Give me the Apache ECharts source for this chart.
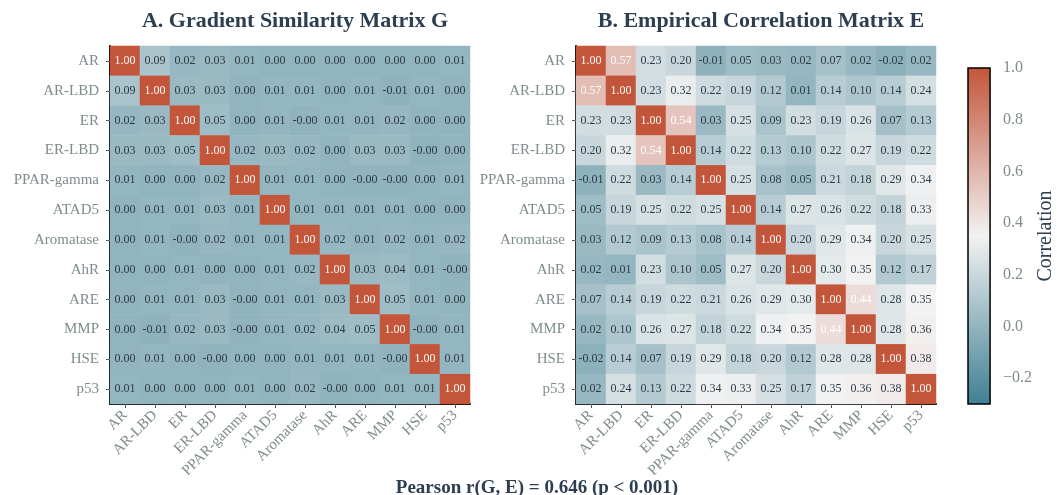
<!DOCTYPE html>
<html>
<head>
<meta charset="utf-8">
<script src="https://cdn.jsdelivr.net/npm/echarts@6/dist/echarts.min.js"></script>
<style>html,body{margin:0;padding:0;background:#fff;}#c{width:1057px;height:495px;}</style>
</head>
<body>
<div id="c"></div>
<script>
const categories = ['AR','AR-LBD','ER','ER-LBD','PPAR-gamma','ATAD5','Aromatase','AhR','ARE','MMP','HSE','p53'];

const gradientG = [
  [1.00, 0.09, 0.02, 0.03, 0.01, 0.00, 0.00, 0.00, 0.00, 0.00, 0.00, 0.01],
  [0.09, 1.00, 0.03, 0.03, 0.00, 0.01, 0.01, 0.00, 0.01, -0.01, 0.01, 0.00],
  [0.02, 0.03, 1.00, 0.05, 0.00, 0.01, -0.004, 0.01, 0.01, 0.02, 0.00, 0.00],
  [0.03, 0.03, 0.05, 1.00, 0.02, 0.03, 0.02, 0.00, 0.03, 0.03, -0.004, 0.00],
  [0.01, 0.00, 0.00, 0.02, 1.00, 0.01, 0.01, 0.00, -0.004, -0.004, 0.00, 0.01],
  [0.00, 0.01, 0.01, 0.03, 0.01, 1.00, 0.01, 0.01, 0.01, 0.01, 0.00, 0.00],
  [0.00, 0.01, -0.004, 0.02, 0.01, 0.01, 1.00, 0.02, 0.01, 0.02, 0.01, 0.02],
  [0.00, 0.00, 0.01, 0.00, 0.00, 0.01, 0.02, 1.00, 0.03, 0.04, 0.01, -0.004],
  [0.00, 0.01, 0.01, 0.03, -0.004, 0.01, 0.01, 0.03, 1.00, 0.05, 0.01, 0.00],
  [0.00, -0.01, 0.02, 0.03, -0.004, 0.01, 0.02, 0.04, 0.05, 1.00, -0.004, 0.01],
  [0.00, 0.01, 0.00, -0.004, 0.00, 0.00, 0.01, 0.01, 0.01, -0.004, 1.00, 0.01],
  [0.01, 0.00, 0.00, 0.00, 0.01, 0.00, 0.02, -0.004, 0.00, 0.01, 0.01, 1.00]
];

const empiricalE = [
  [1.00, 0.57, 0.23, 0.20, -0.01, 0.05, 0.03, 0.02, 0.07, 0.02, -0.02, 0.02],
  [0.57, 1.00, 0.23, 0.32, 0.22, 0.19, 0.12, 0.01, 0.14, 0.10, 0.14, 0.24],
  [0.23, 0.23, 1.00, 0.54, 0.03, 0.25, 0.09, 0.23, 0.19, 0.26, 0.07, 0.13],
  [0.20, 0.32, 0.54, 1.00, 0.14, 0.22, 0.13, 0.10, 0.22, 0.27, 0.19, 0.22],
  [-0.01, 0.22, 0.03, 0.14, 1.00, 0.25, 0.08, 0.05, 0.21, 0.18, 0.29, 0.34],
  [0.05, 0.19, 0.25, 0.22, 0.25, 1.00, 0.14, 0.27, 0.26, 0.22, 0.18, 0.33],
  [0.03, 0.12, 0.09, 0.13, 0.08, 0.14, 1.00, 0.20, 0.29, 0.34, 0.20, 0.25],
  [0.02, 0.01, 0.23, 0.10, 0.05, 0.27, 0.20, 1.00, 0.30, 0.35, 0.12, 0.17],
  [0.07, 0.14, 0.19, 0.22, 0.21, 0.26, 0.29, 0.30, 1.00, 0.44, 0.28, 0.35],
  [0.02, 0.10, 0.26, 0.27, 0.18, 0.22, 0.34, 0.35, 0.44, 1.00, 0.28, 0.36],
  [-0.02, 0.14, 0.07, 0.19, 0.29, 0.18, 0.20, 0.12, 0.28, 0.28, 1.00, 0.38],
  [0.02, 0.24, 0.13, 0.22, 0.34, 0.33, 0.25, 0.17, 0.35, 0.36, 0.38, 1.00]
];

const colorbarTicks = [-0.2, 0.0, 0.2, 0.4, 0.6, 0.8, 1.0];
const colorRange = [-0.3, 1.0];
const titles = ['A. Gradient Similarity Matrix G', 'B. Empirical Correlation Matrix E'];
const footer = 'Pearson r(G, E) = 0.646 (p < 0.001)';

const SERIF = '"Liberation Serif", "DejaVu Serif", serif';
const TITLE_COLOR = '#2c3e50';
const TICK_COLOR = '#7f8c8d';
const CELL_DARK = '#2d3a45';
const CMAP = ['#3f7f93', '#f2f2f2', '#c3553a'];

function toData(m) {
  const out = [];
  for (let r = 0; r < m.length; r++) {
    for (let c = 0; c < m[r].length; c++) {
      const v = m[r][c];
      out.push({
        value: [c, r, v],
        label: { color: v > 0.4 ? '#ffffff' : CELL_DARK }
      });
    }
  }
  return out;
}

const grids = [
  { left: 110, top: 46, width: 360, height: 358 },
  { left: 576, top: 46, width: 360, height: 358 },
  { left: 968, top: 68, width: 23, height: 336 }
];

function catX(gi) {
  return {
    type: 'category', gridIndex: gi, data: categories, position: 'bottom',
    axisLine: { show: true, lineStyle: { color: '#000', width: 2 } },
    axisTick: { show: true, alignWithLabel: true, length: 4, lineStyle: { color: '#555' } },
    axisLabel: { rotate: 45, color: TICK_COLOR, fontFamily: SERIF, fontSize: 15, margin: 9, interval: 0 },
    splitLine: { show: false }
  };
}
function catY(gi) {
  return {
    type: 'category', gridIndex: gi, data: categories, inverse: true,
    axisLine: { show: true, lineStyle: { color: '#000', width: 2 } },
    axisTick: { show: true, alignWithLabel: true, length: 4, lineStyle: { color: '#555' } },
    axisLabel: { color: TICK_COLOR, fontFamily: SERIF, fontSize: 15, margin: 11, interval: 0 },
    splitLine: { show: false }
  };
}

const chart = echarts.init(document.getElementById('c'), null, { renderer: 'canvas' });
chart.setOption({
  backgroundColor: '#ffffff',
  animation: false,
  title: [
    { text: titles[0], left: 290, top: 5, textAlign: 'center',
      textStyle: { fontFamily: SERIF, fontSize: 22, fontWeight: 'bold', color: TITLE_COLOR } },
    { text: titles[1], left: 756, top: 5, textAlign: 'center',
      textStyle: { fontFamily: SERIF, fontSize: 22, fontWeight: 'bold', color: TITLE_COLOR } },
    { text: footer, left: 532, top: 474, textAlign: 'center',
      textStyle: { fontFamily: SERIF, fontSize: 19, fontWeight: 'bold', color: TITLE_COLOR } }
  ],
  grid: grids,
  xAxis: [
    catX(0), catX(1),
    { type: 'value', gridIndex: 2, min: 0, max: 1, show: false }
  ],
  yAxis: [
    catY(0), catY(1),
    { type: 'value', gridIndex: 2, min: colorRange[0], max: colorRange[1], position: 'right',
      axisLine: { show: false },
      axisTick: { show: true, length: 4, customValues: colorbarTicks, lineStyle: { color: '#555' } },
      axisLabel: { show: true, customValues: colorbarTicks, color: TICK_COLOR, fontFamily: SERIF, fontSize: 16, margin: 13,
        formatter: v => (v < 0 ? '\u2212' + Math.abs(v).toFixed(1) : v.toFixed(1)) },
      splitLine: { show: false },
      name: 'Correlation', nameLocation: 'middle', nameGap: 40, nameRotate: 90,
      nameTextStyle: { fontFamily: SERIF, fontSize: 20, color: TITLE_COLOR } }
  ],
  visualMap: {
    type: 'continuous', show: false, min: colorRange[0], max: colorRange[1],
    seriesIndex: [0, 1], dimension: 2,
    inRange: { color: CMAP }
  },
  series: [
    { type: 'heatmap', xAxisIndex: 0, yAxisIndex: 0, data: toData(gradientG),
      label: { show: true, fontFamily: SERIF, fontSize: 12, formatter: p => p.value[2].toFixed(2) },
      emphasis: { disabled: true } },
    { type: 'heatmap', xAxisIndex: 1, yAxisIndex: 1, data: toData(empiricalE),
      label: { show: true, fontFamily: SERIF, fontSize: 12, formatter: p => p.value[2].toFixed(2) },
      emphasis: { disabled: true } },
    { type: 'custom', xAxisIndex: 2, yAxisIndex: 2, data: [[0, colorRange[1]]],
      renderItem: function (params, api) {
        const p0 = api.coord([0, colorRange[1]]);
        const p1 = api.coord([1, colorRange[0]]);
        return {
          type: 'rect',
          shape: { x: p0[0], y: p0[1], width: p1[0] - p0[0], height: p1[1] - p0[1] },
          style: {
            fill: new echarts.graphic.LinearGradient(0, 0, 0, 1, [
              { offset: 0, color: CMAP[2] },
              { offset: 0.5, color: CMAP[1] },
              { offset: 1, color: CMAP[0] }
            ]),
            stroke: '#000', lineWidth: 1.5
          }
        };
      }
    }
  ]
});
</script>
</body>
</html>
